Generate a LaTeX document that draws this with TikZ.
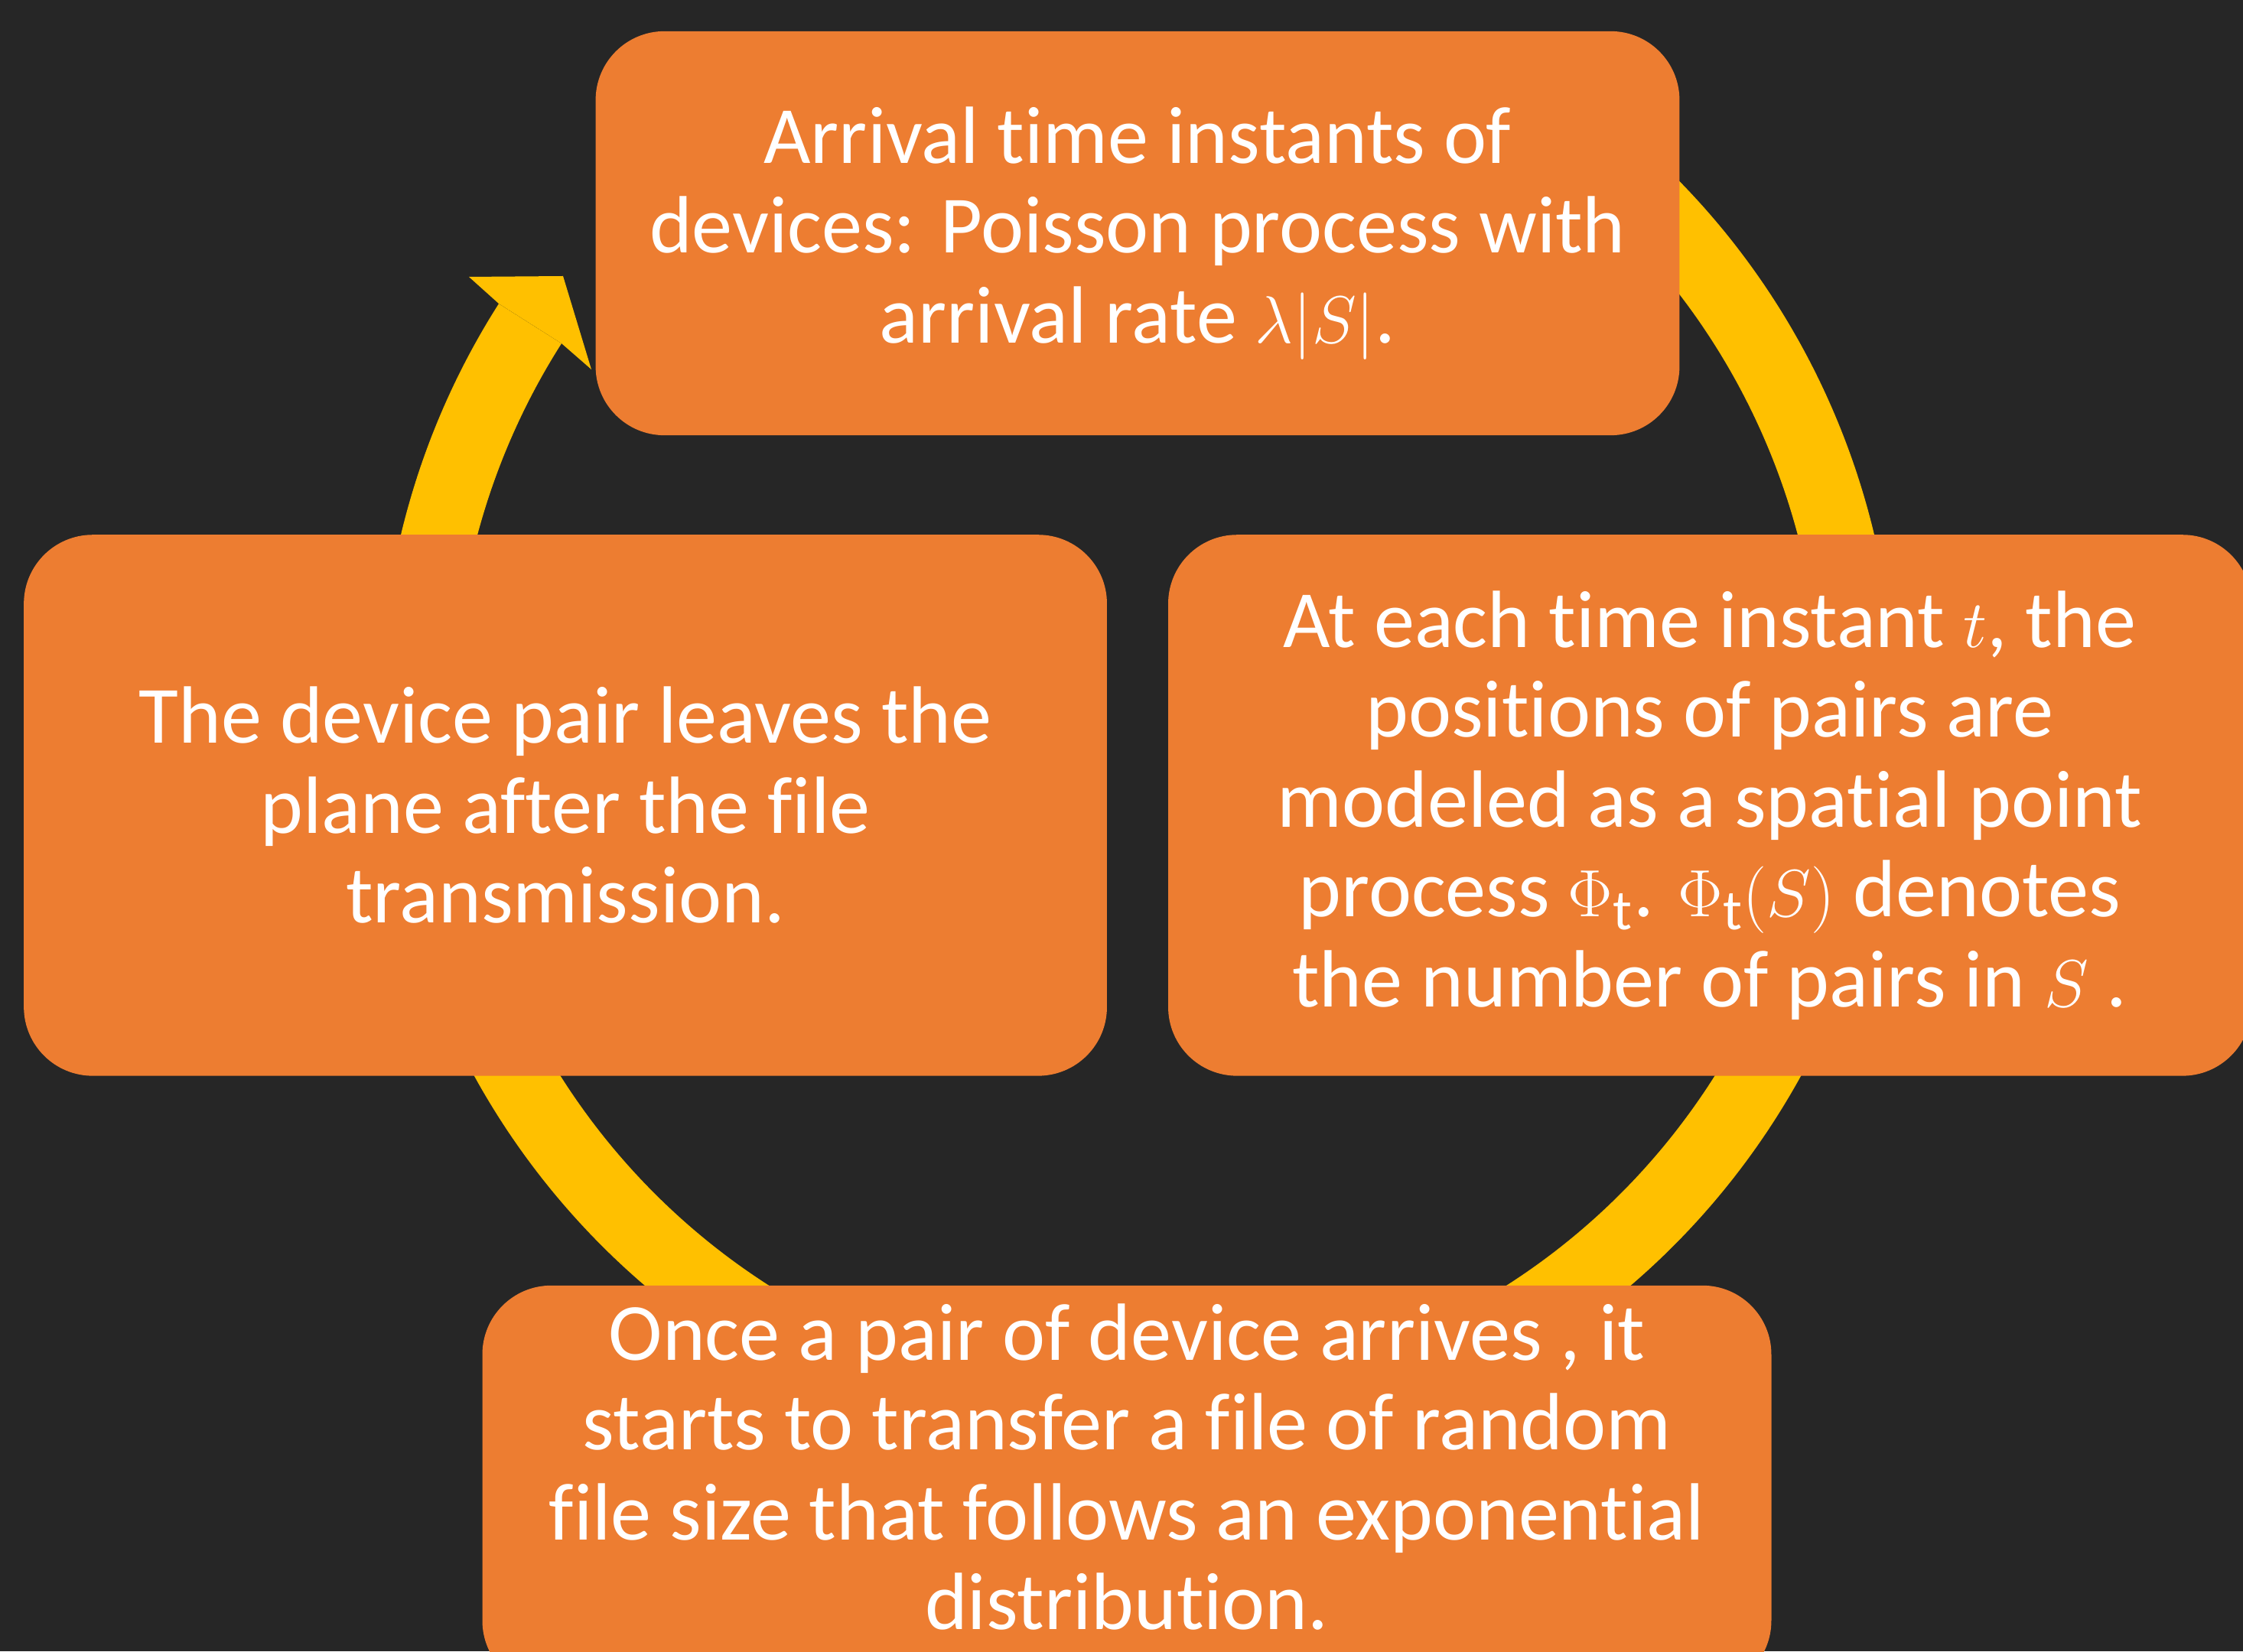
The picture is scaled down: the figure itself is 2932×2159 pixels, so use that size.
\documentclass[tikz,border=0pt]{standalone}
\usepackage{fontspec}
\setmainfont{Carlito}[Ligatures=NoCommon]
\usetikzlibrary{positioning}

\definecolor{slide}{HTML}{262626}
\definecolor{boxorange}{HTML}{ED7D31}
\definecolor{ringyellow}{HTML}{FFC000}

\tikzset{
  stage/.style={rectangle, rounded corners=0.9cm, fill=boxorange, text=white,
    align=center, inner sep=0pt, font=\fontsize{30.2}{33.4}\selectfont},
  ring/.style={draw=ringyellow, line width=0.97cm},
}

\begin{document}
\begin{tikzpicture}[x=0.01cm, y=0.01cm, node distance=7.475cm, on grid]

        \fill[slide] (0,0) rectangle (2932,2159);
        \useasboundingbox (0,0) rectangle (2932,2159);

        % the cycle behind the boxes
        \coordinate (hub) at (1487,1230);
        \draw[ring] (hub) ++(60:941.5) arc[start angle=60, end angle=-212.5, radius=941.5];
        \fill[ringyellow] (652,1762) -- (613,1797) -- (736,1798) -- (773,1676) -- (734,1710) -- cycle;

        \node[stage, minimum width=14.16cm, minimum height=5.28cm] (ARRIVAL) at (1487,1854)
            {Arrival time instants of\\devices: Poisson process with\\arrival rate $\lambda|S|$.};
        \node[stage, minimum width=14.15cm, minimum height=7.07cm, below right=7.475cm and 7.475cm of ARRIVAL] (POSITIONS)
            {At each time instant $t$, the\\positions of pairs are\\modeled as a spatial point\\process $\Phi_{\mathrm{t}}$. $\Phi_{\mathrm{t}}(S)$ denotes\\the number of pairs in $S$ .};
        \node[stage, minimum width=14.15cm, minimum height=7.07cm, below left=7.475cm and 7.475cm of ARRIVAL] (LEAVE)
            {The device pair leaves the\\plane after the file\\transmission.};
        \node[stage, minimum width=16.84cm, minimum height=5.28cm, text depth=0.55cm, below=16.39cm of ARRIVAL, xshift=-0.14cm] (TRANSFER)
            {Once a pair of device arrives , it\\starts to transfer a file of random\\file size that follows an exponential\\distribution.};

\end{tikzpicture}
\end{document}
